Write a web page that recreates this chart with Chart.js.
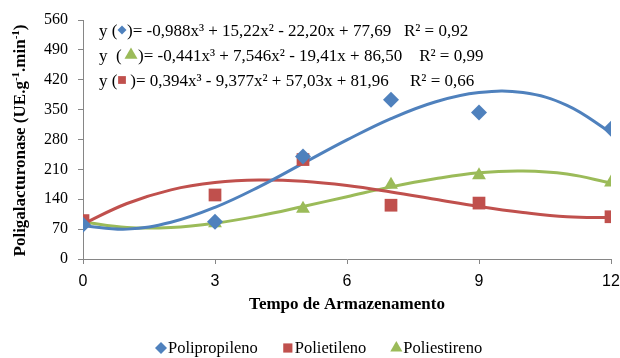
<!DOCTYPE html>
<html>
<head>
<meta charset="utf-8">
<script src="https://cdn.jsdelivr.net/npm/chart.js@4.4.1/dist/chart.umd.min.js"></script>
<style>
    html, body { margin: 0; padding: 0; background: #fff; }
</style>
</head>
<body>
<canvas id="chart" width="620" height="358"></canvas>
<script>
// measured points (days of storage)
const xDays = [0, 3, 5, 7, 9, 12];
const polipropileno = [80, 87, 240, 373, 343, 305];
const polietileno = [90, 150, 233, 126, 131, 99];
const poliestireno = [86, 84, 118, 174, 196, 179];

// trend lines, one value per day
const trendX = [0, 1, 2, 3, 4, 5, 6, 7, 8, 9, 10, 11, 12];
const trendPolipropileno = [78, 70, 86, 121, 169, 224, 279, 329, 368, 390, 390, 360, 296];
const trendPolietileno = [82, 130, 162, 179, 185, 182, 172, 157, 140, 123, 109, 99, 97];
const trendPoliestireno = [87, 74, 74, 84, 101, 123, 146, 169, 188, 202, 206, 199, 178];

const xTicks = [0, 3, 6, 9, 12];
const yTicks = [0, 70, 140, 210, 280, 350, 420, 490, 560];

const seriesNames = ['Polipropileno', 'Polietileno', 'Poliestireno'];
const colors = ['#4F81BD', '#C0504D', '#9BBB59'];

const equations = [
    { prefix: 'y (', marker: 'rectRot', size: 4.5, color: colors[0], mx: 122, rest: ')= -0,988x³ + 15,22x² - 22,20x + 77,69   R² = 0,92', rx: 127 },
    { prefix: 'y  (', marker: 'triangle', size: 7.5, color: colors[2], mx: 131, rest: ')= -0,441x³ + 7,546x² - 19,41x + 86,50    R² = 0,99', rx: 138 },
    { prefix: 'y (', marker: 'rect', size: 5.5, color: colors[1], mx: 122, rest: ' )= 0,394x³ - 9,377x² + 57,03x + 81,96     R² = 0,66', rx: 126 }
];

const serif = "'Liberation Serif', 'Times New Roman', serif";
const sans = "'Liberation Sans', Arial, sans-serif";

const toPoints = (xs, ys) => xs.map((x, i) => ({ x: x, y: ys[i] }));

const overlay = {
    id: 'overlay',
    afterDraw(chart) {
        const ctx = chart.ctx;
        const area = chart.chartArea;

        // y axis title with superscripts
        ctx.save();
        ctx.translate(21, (area.top + area.bottom) / 2 + 1);
        ctx.rotate(-Math.PI / 2);
        ctx.fillStyle = '#000';
        ctx.textBaseline = 'middle';
        const parts = [['Poligalacturonase (UE.g', false], ['-1', true], ['.min', false], ['-1', true], [')', false]];
        const fontFor = (sup) => sup ? 'bold 11px ' + serif : 'bold 17px ' + serif;
        let w = 0;
        parts.forEach(p => {
            ctx.font = fontFor(p[1]);
            w += ctx.measureText(p[0]).width;
        });
        let x = -w / 2;
        parts.forEach(p => {
            ctx.font = fontFor(p[1]);
            ctx.fillText(p[0], x, p[1] ? -5 : 0);
            x += ctx.measureText(p[0]).width;
        });
        ctx.restore();

        // x axis title
        ctx.save();
        ctx.font = 'bold 17px ' + serif;
        ctx.fillStyle = '#000';
        ctx.textAlign = 'center';
        ctx.textBaseline = 'middle';
        ctx.fillText('Tempo de Armazenamento', (area.left + area.right) / 2, 305);
        ctx.restore();

        // trend equations
        ctx.save();
        ctx.font = '17px ' + serif;
        ctx.textBaseline = 'alphabetic';
        equations.forEach((eq, i) => {
            const base = 36 + i * 25;
            ctx.fillStyle = '#000';
            ctx.fillText(eq.prefix, 99, base);
            ctx.fillText(eq.rest, eq.rx, base);
            ctx.fillStyle = eq.color;
            Chart.helpers.drawPoint(ctx, {
                pointStyle: eq.marker, radius: eq.size, borderWidth: 0, rotation: 0
            }, eq.mx, base - 6);
        });
        ctx.restore();

        // legend
        ctx.save();
        ctx.font = '16.5px ' + serif;
        ctx.textBaseline = 'middle';
        let lx = 156;
        const ly = 349;
        chart.data.datasets.filter(ds => ds.label !== 'trend').forEach(ds => {
            ctx.fillStyle = ds.backgroundColor;
            const r = ds.pointStyle === 'triangle' ? 7 : (ds.pointStyle === 'rect' ? 6.5 : 6);
            Chart.helpers.drawPoint(ctx, { pointStyle: ds.pointStyle, radius: r, borderWidth: 0, rotation: 0 }, lx + 5, ly - 1);
            ctx.fillStyle = '#000';
            ctx.fillText(ds.label, lx + 12, ly);
            lx += 12 + ctx.measureText(ds.label).width + 25;
        });
        ctx.restore();
    }
};

const pointSet = (label, ys, color, style, radius) => ({
    label: label,
    data: toPoints(xDays, ys),
    showLine: false,
    pointStyle: style,
    pointRadius: radius,
    pointHoverRadius: radius,
    pointBackgroundColor: color,
    pointBorderColor: color,
    pointBorderWidth: 0,
    backgroundColor: color,
    borderColor: color
});

const trendSet = (ys, color) => ({
    label: 'trend',
    data: toPoints(trendX, ys),
    showLine: true,
    pointRadius: 0,
    borderColor: color,
    borderWidth: 3,
    tension: 0.4,
    fill: false
});

new Chart(document.getElementById('chart'), {
    type: 'scatter',
    data: {
        datasets: [
            pointSet(seriesNames[0], polipropileno, colors[0], 'rectRot', 8),
            pointSet(seriesNames[1], polietileno, colors[1], 'rect', 9),
            pointSet(seriesNames[2], poliestireno, colors[2], 'triangle', 8),
            trendSet(trendPolipropileno, colors[0]),
            trendSet(trendPolietileno, colors[1]),
            trendSet(trendPoliestireno, colors[2])
        ]
    },
    options: {
        responsive: false,
        animation: false,
        layout: { padding: { top: 20, right: 9, left: 24, bottom: 0 } },
        plugins: {
            tooltip: { enabled: false },
            legend: { display: false }
        },
        scales: {
            x: {
                type: 'linear',
                min: 0,
                max: 12,
                afterBuildTicks: (scale) => { scale.ticks = xTicks.map(v => ({ value: v })); },
                afterFit: (scale) => { scale.height = 99; scale.paddingRight = 0; scale.paddingLeft = 0; },
                ticks: { color: '#000', font: { family: sans, size: 16 }, padding: 8 },
                grid: { drawOnChartArea: false, drawTicks: true, tickLength: 5, color: '#868686' },
                border: { color: '#868686', width: 1 }
            },
            y: {
                min: 0,
                max: 560,
                afterBuildTicks: (scale) => { scale.ticks = yTicks.map(v => ({ value: v })); },
                afterFit: (scale) => { scale.width = 59; },
                ticks: { color: '#000', font: { family: serif, size: 16 }, padding: 10 },
                grid: { drawOnChartArea: false, drawTicks: true, tickLength: 5, color: '#868686' },
                border: { color: '#868686', width: 1 }
            }
        }
    },
    plugins: [overlay]
});
</script>
</body>
</html>
